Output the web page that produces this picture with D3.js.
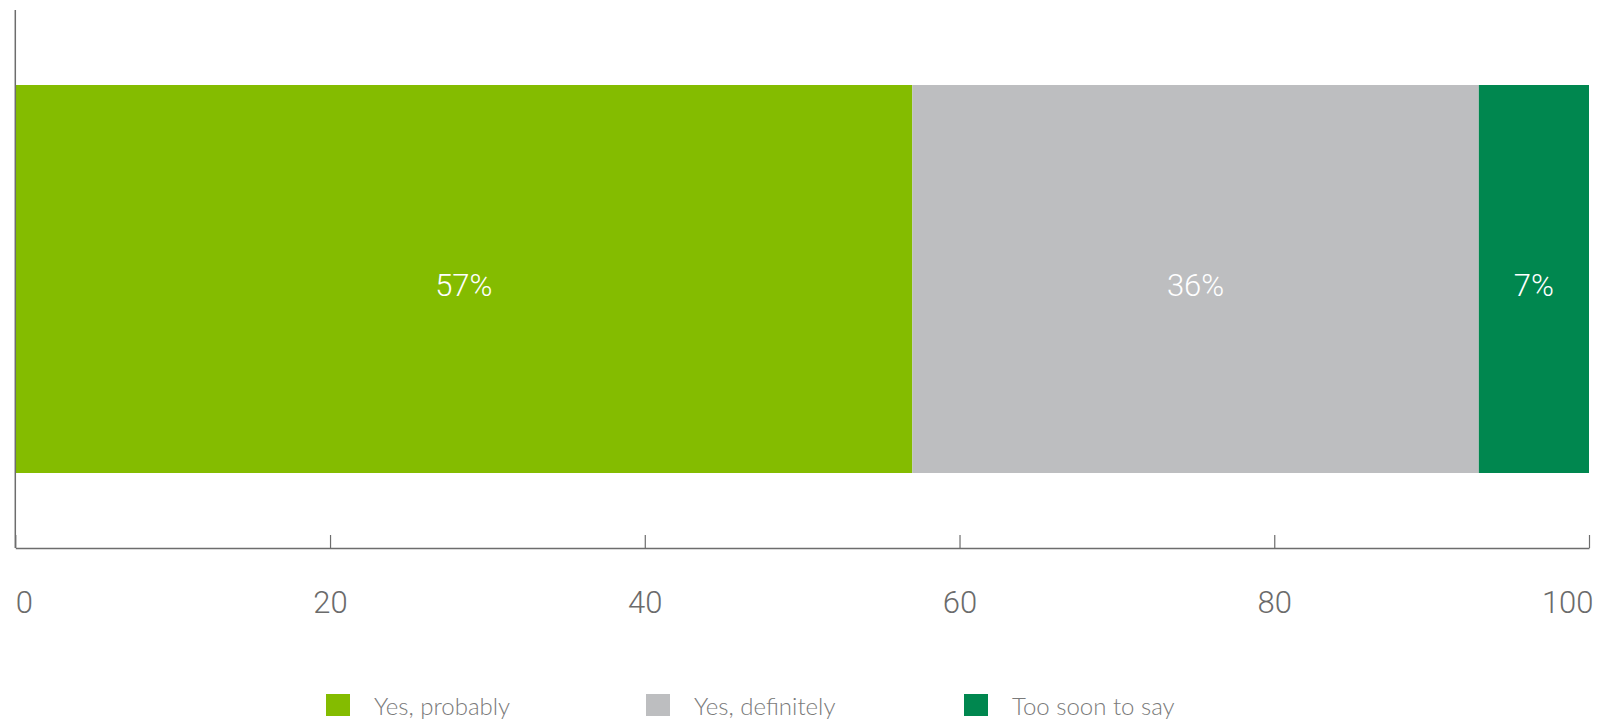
<!DOCTYPE html>
<html>
<head>
<meta charset="utf-8">
<script src="https://cdn.jsdelivr.net/npm/d3@7"></script>
<style>
  html, body { margin: 0; padding: 0; background: #ffffff; }
  svg { display: block; }
</style>
</head>
<body>
<svg id="chart" width="1604" height="721"></svg>
<script>
// ---- data ----
const categories = ["Yes, probably", "Yes, definitely", "Too soon to say"];
const values = [57, 36, 7];
const labels = ["57%", "36%", "7%"];
const colors = ["#84bc00", "#bdbec0", "#00874f"];
const tickValues = [0, 20, 40, 60, 80, 100];

// ---- layout ----
const W = 1604, H = 721;
const left = 15.3, right = 1589;
const axisY = 548, topY = 10;
const barTop = 85, barBottom = 473;

const svg = d3.select("#chart");
const x = d3.scaleLinear().domain([0, 100]).range([left, right]);
const y = d3.scaleBand().domain(["row"]).range([barTop, barBottom]).padding(0);

// stacked values
let acc = 0;
const stacked = values.map((v, i) => {
  const s = { start: acc, end: acc + v, label: labels[i], color: colors[i], cat: categories[i] };
  acc += v;
  return s;
});

// bars
svg.append("g").selectAll("rect").data(stacked).join("rect")
  .attr("x", d => x(d.start))
  .attr("y", y("row"))
  .attr("width", d => x(d.end) - x(d.start))
  .attr("height", y.bandwidth())
  .attr("fill", d => d.color);

// bar labels
svg.append("g").selectAll("text").data(stacked).join("text")
  .attr("x", d => (x(d.start) + x(d.end)) / 2)
  .attr("y", y("row") + y.bandwidth() / 2 + 5.5)
  .attr("dy", "0.36em")
  .attr("text-anchor", "middle")
  .attr("fill", "#ffffff")
  .style("font-family", "Roboto, 'Open Sans', sans-serif")
  .style("font-weight", 300)
  .style("font-size", "31px")
  .text(d => d.label);

// left vertical axis line
svg.append("line")
  .attr("x1", left).attr("x2", left)
  .attr("y1", topY).attr("y2", axisY)
  .attr("stroke", "#6d6d6d").attr("stroke-width", 1.5);

// x axis
const xAxis = d3.axisBottom(x).tickValues(tickValues).tickSizeInner(-13).tickSizeOuter(0).tickPadding(0);
const gx = svg.append("g").attr("transform", `translate(0,${axisY})`).call(xAxis);
gx.select(".domain").attr("stroke", "#6d6d6d").attr("stroke-width", 1.5);
gx.selectAll(".tick line").attr("stroke", "#6d6d6d").attr("stroke-width", 1.2);
gx.selectAll(".tick text")
  .attr("y", 65)
  .attr("dy", 0)
  .attr("fill", "#6b6b6b")
  .style("font-family", "Roboto, 'Open Sans', sans-serif")
  .style("font-weight", 300)
  .style("font-size", "31px")
  .attr("text-anchor", (d, i) => i === 0 ? "start" : (i === tickValues.length - 1 ? "end" : "middle"))
  .attr("dx", (d, i) => i === tickValues.length - 1 ? 4 : 0);

// legend
const legendX = [326, 646, 964];
const legend = svg.append("g").selectAll("g").data(categories).join("g")
  .attr("transform", (d, i) => `translate(${legendX[i]},694)`);
legend.append("rect")
  .attr("width", 24).attr("height", 22)
  .attr("fill", (d, i) => colors[i]);
legend.append("text")
  .attr("x", 48).attr("y", 21)
  .attr("fill", "#7a7a7a")
  .style("font-family", "Lato, 'Open Sans', sans-serif")
  .style("font-weight", 300)
  .style("font-size", "24px")
  .text(d => d);
</script>
</body>
</html>
